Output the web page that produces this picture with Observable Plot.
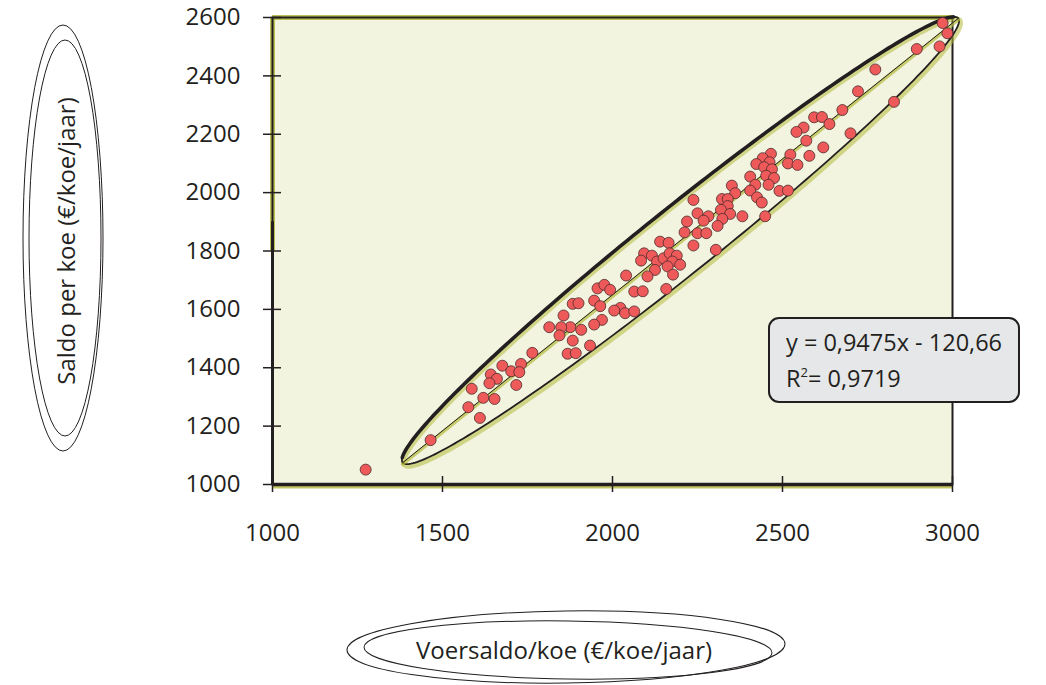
<!DOCTYPE html>
<html>
<head>
<meta charset="utf-8">
<script src="https://cdn.jsdelivr.net/npm/d3@7"></script>
<script src="https://cdn.jsdelivr.net/npm/@observablehq/plot@0.6"></script>
<style>
  html, body { margin: 0; padding: 0; background: #ffffff; }
  #wrap { position: relative; width: 1046px; height: 685px; overflow: hidden; font-family: "Open Sans", sans-serif; color: #231f20; }
  #chart { position: absolute; left: 0; top: 0; }
  #overlay { position: absolute; left: 0; top: 0; pointer-events: none; }
  #eqbox { position: absolute; left: 768px; top: 317px; width: 248px; height: 82px;
           background: #e6e7e8; border: 2.5px solid #231f20; border-radius: 11px; }
  #eqbox div { position: absolute; left: 16px; font-size: 23.5px; line-height: 1; white-space: nowrap; }
</style>
</head>
<body>
<div id="wrap">
  <div id="chart"></div>
  <svg id="overlay" width="1046" height="685"></svg>
  <div id="eqbox">
    <div style="top:12px">y = 0,9475x - 120,66</div>
    <div style="top:47px">R<sup style="font-size:13px;vertical-align:10px">2</sup>= 0,9719</div>
  </div>
</div>
<script>
// Voersaldo per koe (x) and Saldo per koe (y)
const voersaldo = [2971,2985,2895,2962,2773,2722,2828,2676,2593,2616,2638,2562,2541,2700,2570,2620,2523,2579,2516,2544,
  2466,2442,2462,2423,2446,2469,2452,2475,2459,2405,2420,2405,2425,2439,2491,2516,2351,2361,2322,2339,
  2339,2238,2319,2346,2250,2282,2268,2323,2382,2449,2309,2250,2276,2238,2304,2219,2212,2140,2165,2093,
  2116,2084,2131,2150,2168,2189,2176,2162,2199,2125,2103,2178,2040,2158,1956,1976,1993,2064,2089,1946,
  1964,1883,1900,2023,2005,2037,2064,1969,1946,1876,1908,1883,1934,1856,1814,1849,1844,1868,1892,1764,
  1676,1731,1702,1726,1642,1660,1638,1717,1586,1620,1653,1576,1610,1465,1274];
const saldo = [2581,2546,2492,2501,2422,2347,2311,2283,2258,2259,2235,2223,2208,2203,2178,2155,2130,2126,2100,2095,
  2133,2118,2104,2098,2087,2080,2058,2050,2027,2055,2027,2007,1984,1966,2006,2007,2024,1998,1978,1978,
  1954,1975,1941,1927,1929,1919,1904,1910,1919,1919,1886,1861,1861,1819,1804,1901,1864,1832,1828,1792,
  1784,1767,1764,1775,1792,1784,1764,1747,1753,1735,1713,1719,1716,1670,1672,1684,1667,1661,1662,1630,
  1611,1619,1621,1605,1596,1587,1593,1564,1548,1539,1530,1493,1476,1579,1539,1539,1511,1448,1450,1451,
  1407,1413,1388,1385,1377,1362,1347,1341,1328,1297,1293,1265,1228,1152,1051];
const xTicks = [1000, 1500, 2000, 2500, 3000];
const yTicks = [1000, 1200, 1400, 1600, 1800, 2000, 2200, 2400, 2600];

// decorative ellipse around the cloud (data units): centre, half major axis, half minor axis
const ellCenter = [2200, 1836];
const ellMajor = [817, 761];
const ellMinor = [61, -90];

const points = voersaldo.map((x, i) => ({x, y: saldo[i]}));

function ellipsePts(t0, t1, n) {
  const out = [];
  for (let i = 0; i <= n; i++) {
    const t = t0 + (t1 - t0) * i / n;
    out.push({
      x: ellCenter[0] + Math.cos(t) * ellMajor[0] + Math.sin(t) * ellMinor[0],
      y: ellCenter[1] + Math.cos(t) * ellMajor[1] + Math.sin(t) * ellMinor[1]
    });
  }
  return out;
}
const ellFull = ellipsePts(0, 2 * Math.PI, 240);
const ellUpper = ellipsePts(Math.PI * 1.04, Math.PI * 1.96, 120);
const ellAxis = [
  {x: ellCenter[0] - ellMajor[0], y: ellCenter[1] - ellMajor[1]},
  {x: ellCenter[0] + ellMajor[0], y: ellCenter[1] + ellMajor[1]}
];

const ink = "#231f20";
const olive = "#b4b93a";

const chart = Plot.plot({
  width: 1046,
  height: 560,
  marginLeft: 272,
  marginRight: 94,
  marginTop: 17,
  marginBottom: 76,
  x: {domain: [1000, 3000]},
  y: {domain: [1000, 2600]},
  style: {fontFamily: "Open Sans, sans-serif", fontSize: "24px", color: ink, background: "transparent", overflow: "visible"},
  marks: [
    Plot.frame({fill: "#f2f4e0", stroke: null}),
    Plot.ruleY([2600], {stroke: olive, strokeWidth: 5, strokeOpacity: 0.85}),
    Plot.ruleX([1000], {y1: 1800, y2: 2600, stroke: olive, strokeWidth: 5, strokeOpacity: 0.85}),
    Plot.ruleY([1000], {stroke: olive, strokeWidth: 4, dy: 2, strokeOpacity: 0.8}),
    Plot.frame({stroke: ink, strokeWidth: 2}),
    Plot.ruleY([1000], {stroke: ink, strokeWidth: 3.5}),
    Plot.ruleX([1000], {y1: 1000, y2: 1900, stroke: ink, strokeWidth: 3}),
    // decorative ellipse and its axis
    Plot.line(ellFull, {x: "x", y: "y", stroke: olive, strokeWidth: 5, strokeOpacity: 0.55, dx: 1.5, dy: 2}),
    Plot.line(ellFull, {x: "x", y: "y", stroke: ink, strokeWidth: 1.8}),
    Plot.line(ellUpper, {x: "x", y: "y", stroke: ink, strokeWidth: 3.6}),
    Plot.line(ellAxis, {x: "x", y: "y", stroke: olive, strokeWidth: 3.5, strokeOpacity: 0.7, dy: 1.5}),
    Plot.line(ellAxis, {x: "x", y: "y", stroke: ink, strokeWidth: 1}),
    Plot.dot(points, {x: "x", y: "y", r: 5.5, fill: "#ee5a5a", stroke: "#4d2b2b", strokeWidth: 0.8}),
    Plot.axisY({ticks: yTicks, tickSize: 9, tickPadding: 23, label: null, stroke: ink, strokeWidth: 1.5, tickFormat: d => String(d)}),
    Plot.axisY({ticks: yTicks, tickSize: 9, text: null, dx: 9, label: null, stroke: ink, strokeWidth: 1.5}),
    Plot.axisX({ticks: xTicks, tickSize: 8, tickPadding: 31, label: null, stroke: ink, strokeWidth: 1.5, tickFormat: d => String(d)}),
    Plot.axisX({ticks: xTicks, tickSize: 8, text: null, dy: -8, label: null, stroke: ink, strokeWidth: 1.5})
  ]
});
document.getElementById("chart").appendChild(chart);

// axis titles with hand-drawn ellipses
const svg = d3.select("#overlay");
const g1 = svg.append("g");
g1.append("ellipse").attr("cx", 63).attr("cy", 238).attr("rx", 40).attr("ry", 213)
  .attr("fill", "none").attr("stroke", ink).attr("stroke-width", 1);
g1.append("ellipse").attr("cx", 65).attr("cy", 238).attr("rx", 36).attr("ry", 198)
  .attr("fill", "none").attr("stroke", ink).attr("stroke-width", 1);
g1.append("text").attr("transform", "translate(75,241) rotate(-90)")
  .attr("text-anchor", "middle").attr("font-family", "Open Sans, sans-serif")
  .attr("font-size", 24).attr("fill", ink).text("Saldo per koe (€/koe/jaar)");

const g2 = svg.append("g");
g2.append("ellipse").attr("cx", 566).attr("cy", 647).attr("rx", 219).attr("ry", 36)
  .attr("transform", "rotate(-0.8 566 647)")
  .attr("fill", "none").attr("stroke", ink).attr("stroke-width", 1);
g2.append("ellipse").attr("cx", 568).attr("cy", 650).attr("rx", 204).attr("ry", 29)
  .attr("transform", "rotate(0.8 568 650)")
  .attr("fill", "none").attr("stroke", ink).attr("stroke-width", 1);
g2.append("text").attr("x", 564).attr("y", 659)
  .attr("text-anchor", "middle").attr("font-family", "Open Sans, sans-serif")
  .attr("font-size", 24).attr("fill", ink).text("Voersaldo/koe (€/koe/jaar)");
</script>
</body>
</html>
